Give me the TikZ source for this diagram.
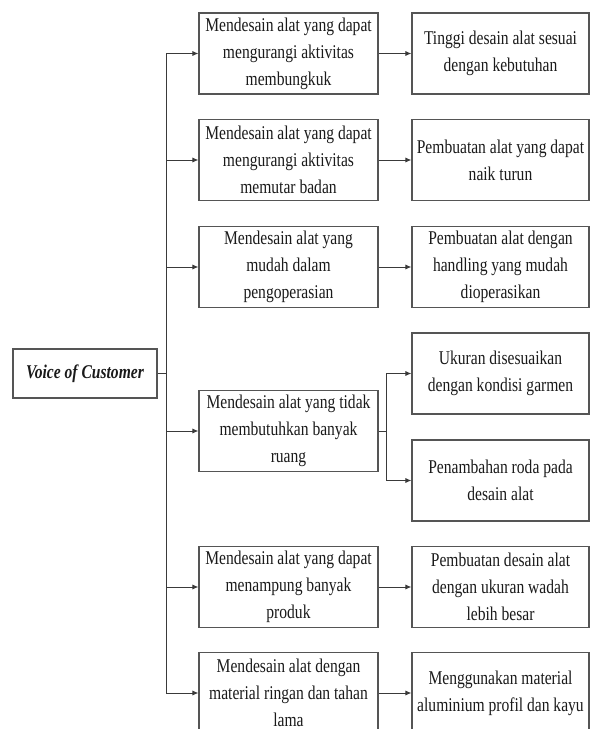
\documentclass[tikz,border=0pt]{standalone}
\usepackage{fontspec}
\setmainfont{Liberation Serif}[FakeStretch=0.8]
\usetikzlibrary{arrows.meta}
\definecolor{boxgray}{HTML}{555555}
\definecolor{linegray}{HTML}{3A3A3A}
\definecolor{txt}{HTML}{1A1A1A}
\begin{document}
\begin{tikzpicture}[x=0.75pt,y=-0.75pt,
  box/.style={draw=boxgray, line width=0.8pt, minimum width=134.25pt, minimum height=60.75pt,
    inner sep=0pt, align=center, text=txt, font=\fontsize{14.6}{20.25}\selectfont},
  rbox/.style={box, minimum width=132.75pt},
  conn/.style={draw=linegray, line width=0.75pt},
  arr/.style={conn, -{Latex[length=4.5pt,width=3.8pt]}}]
\useasboundingbox (0,0) rectangle (591,729);
\begin{scope}
\clip (0,0) rectangle (591,729);
\node[box, minimum width=108pt, minimum height=36.75pt, font=\fontsize{14.6}{20.25}\selectfont\bfseries\itshape] (voc) at (85,373.5) {Voice of Customer};

\node[box] (m1) at (288.5,53.5) {Mendesain alat yang dapat\\mengurangi aktivitas\\membungkuk};
\node[box] (m2) at (288.5,160) {Mendesain alat yang dapat\\mengurangi aktivitas\\memutar badan};
\node[box] (m3) at (288.5,267) {Mendesain alat yang\\mudah dalam\\pengoperasian};
\node[box] (m4) at (288.5,431) {Mendesain alat yang tidak\\membutuhkan banyak\\ruang};
\node[box] (m5) at (288.5,587) {Mendesain alat yang dapat\\menampung banyak\\produk};
\node[box] (m6) at (288.5,693) {Mendesain alat dengan\\material ringan dan tahan\\lama};

\node[rbox] (r1) at (500.5,53.5) {Tinggi desain alat sesuai\\dengan kebutuhan};
\node[rbox] (r2) at (500.5,160) {Pembuatan alat yang dapat\\naik turun};
\node[rbox] (r3) at (500.5,267) {Pembuatan alat dengan\\handling yang mudah\\dioperasikan};
\node[rbox] (r4a) at (500.5,373.5) {Ukuran disesuaikan\\dengan kondisi garmen};
\node[rbox] (r4b) at (500.5,480.5) {Penambahan roda pada\\desain alat};
\node[rbox] (r5) at (500.5,587) {Pembuatan desain alat\\dengan ukuran wadah\\lebih besar};
\node[rbox] (r6) at (500.5,693) {Menggunakan material\\aluminium profil dan kayu};

\coordinate (tTop) at (166,53.5);
\coordinate (tBot) at (166,693);
\coordinate (tMid) at (166,373.5);
\coordinate (br) at (386,431);

\draw[conn] (voc.east) -- (tMid);
\draw[conn] (tTop) -- (tBot);
\foreach \m in {m1,m2,m3,m4,m5,m6}{
  \draw[arr] (\m.west -| tTop) -- (\m.west);
}
\foreach \m/\r in {m1/r1,m2/r2,m3/r3,m5/r5,m6/r6}{
  \draw[arr] (\m.east) -- (\r.west);
}
\draw[conn] (m4.east) -- (br);
\draw[conn] (br |- r4a.west) -- (br |- r4b.west);
\draw[arr] (br |- r4a.west) -- (r4a.west);
\draw[arr] (br |- r4b.west) -- (r4b.west);
\end{scope}
\end{tikzpicture}
\end{document}
